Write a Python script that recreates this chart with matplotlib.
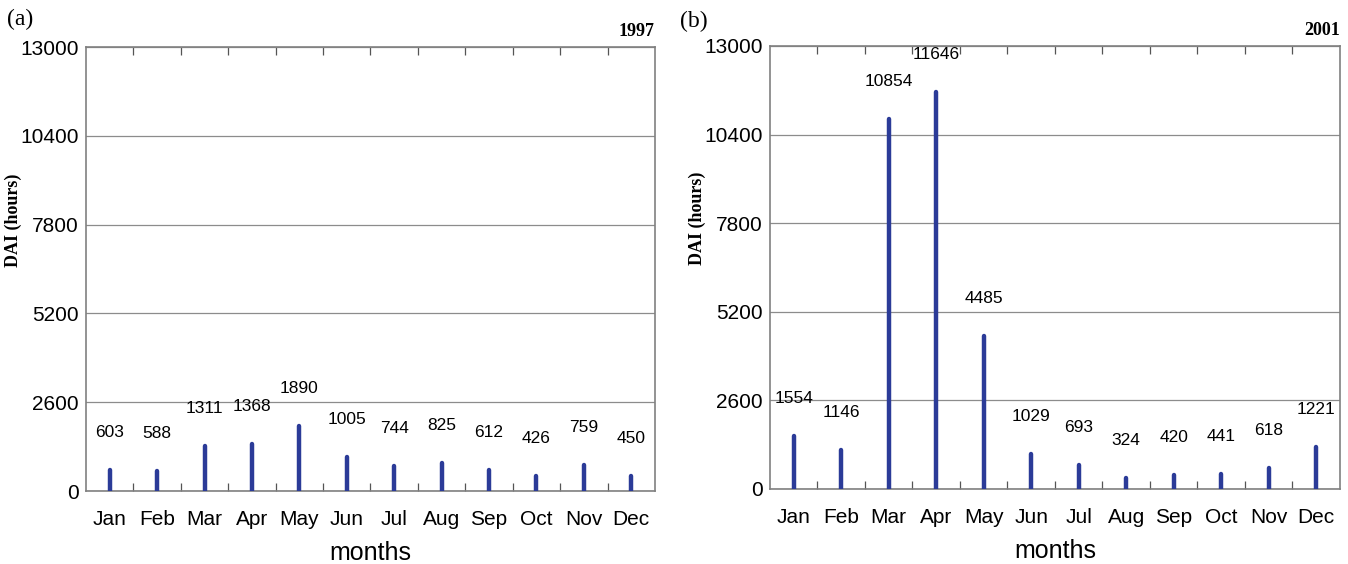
import numpy as np
import matplotlib
matplotlib.use('Agg')
import matplotlib.pyplot as plt

months = ['Jan', 'Feb', 'Mar', 'Apr', 'May', 'Jun', 'Jul', 'Aug', 'Sep', 'Oct', 'Nov', 'Dec']
dai_1997 = [603, 588, 1311, 1368, 1890, 1005, 744, 825, 612, 426, 759, 450]
dai_2001 = [1554, 1146, 10854, 11646, 4485, 1029, 693, 324, 420, 441, 618, 1221]
y_ticks = [0, 2600, 5200, 7800, 10400, 13000]

sans = 'Liberation Sans'
serif = 'Liberation Serif'

bar_color = '#2b3b98'
spine_color = '#808080'


def panel(ax, valores, anio):
    x = np.arange(1, len(months) + 1)
    ax.vlines(x, 0, valores, color=bar_color, linewidth=3.2, capstyle='round', zorder=3)
    for xi, v in zip(x, valores):
        ax.text(xi, v + 1100, str(v), ha='center', va='center',
                fontsize=12.5, family=sans, zorder=4)

    ax.set_xlim(0.5, 12.5)
    ax.set_ylim(0, 13000)
    ax.set_yticks(y_ticks)
    ax.set_yticklabels([str(t) for t in y_ticks], family=sans, fontsize=15)
    ax.yaxis.grid(True, color='#8c8c8c', linewidth=0.9)
    ax.set_axisbelow(True)
    ax.tick_params(axis='y', length=0, pad=5)

    ax.set_xticks(x)
    ax.set_xticklabels(months, family=sans, fontsize=15)
    ax.set_xticks(np.arange(1.5, 12.5, 1), minor=True)
    ax.tick_params(axis='x', which='major', length=0, pad=14)
    ax.tick_params(axis='x', which='minor', direction='in', length=6,
                   top=True, bottom=True, color='#555555', width=0.9)

    for s in ax.spines.values():
        s.set_color(spine_color)
        s.set_linewidth(1.2)

    ax.set_xlabel('months', family=sans, fontsize=18, labelpad=8)
    ax.set_ylabel('DAI (hours)', family=serif, fontweight='bold', fontsize=13)
    ax.yaxis.set_label_coords(-0.112, 0.61)
    ax.text(1.0, 1.035, anio, transform=ax.transAxes, ha='right', va='center',
            family=serif, fontweight='bold', fontsize=13)
    return ax


fig = plt.figure(figsize=(13.48, 5.64), dpi=100)
ax1 = fig.add_axes([0.0638, 0.1294, 0.4221, 0.7872])
ax2 = fig.add_axes([0.5712, 0.1330, 0.4228, 0.7855])

panel(ax1, dai_1997, '1997')
panel(ax2, dai_2001, '2001')

fig.text(0.005, 0.965, '(a)', family=serif, fontsize=17, va='center', ha='left')
fig.text(0.5045, 0.962, '(b)', family=serif, fontsize=17, va='center', ha='left')

fig.savefig('out.png', dpi=100)
